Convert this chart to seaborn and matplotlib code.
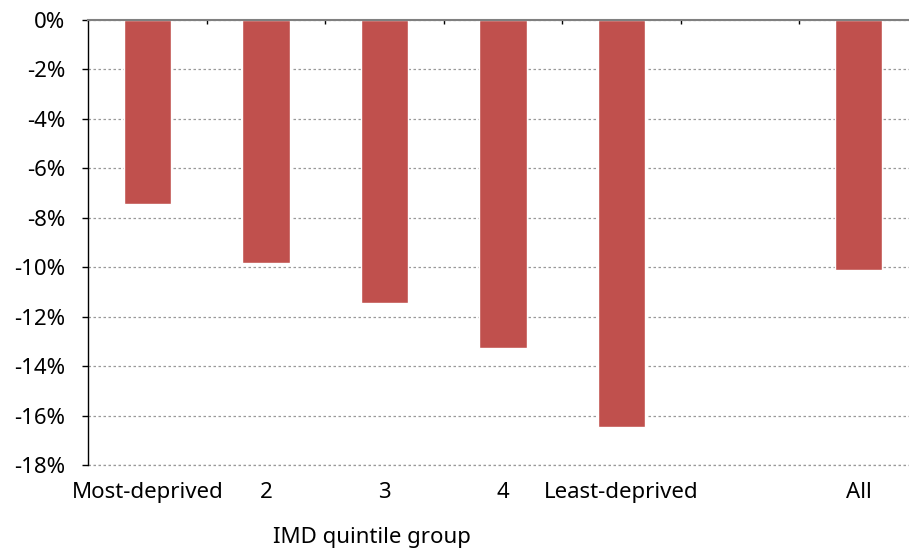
import pandas as pd
import matplotlib
matplotlib.use('Agg')
import matplotlib.pyplot as plt
from matplotlib.ticker import FixedLocator
import seaborn as sns

# Data (percentage change)
groups = ['Most-deprived', '2', '3', '4', 'Least-deprived', 'All']
values = [-7.45, -9.82, -11.45, -13.27, -16.46, -10.12]
# blank slot between the quintiles and the overall bar
order = ['Most-deprived', '2', '3', '4', 'Least-deprived', ' ', 'All']
yticks = list(range(0, -19, -2))

df = pd.DataFrame({'group': groups, 'change': values})

sns.set_theme(style='white')
plt.rcParams['font.family'] = ['Noto Sans', 'DejaVu Sans']

fig = plt.figure(figsize=(9.09, 5.54), dpi=100)
ax = fig.add_axes([88 / 909, 1 - 465 / 554, 830 / 909, 445 / 554])

sns.barplot(data=df, x='group', y='change', order=order, color='#C0504D',
            saturation=1, width=0.4, ax=ax)

ax.set_ylim(-18, 0)
ax.set_xlim(-0.5, 6.5)
ax.set_yticks(yticks)
ax.set_yticklabels([f'{t}%' for t in yticks])
grid_style = dict(linestyle=(0, (2, 2)), color='#999999', linewidth=0.9)
ax.yaxis.grid(True, **grid_style)
ax.axhline(-18, clip_on=False, zorder=0, **grid_style)
ax.set_axisbelow(True)

for s in ['bottom', 'right']:
    ax.spines[s].set_visible(False)
ax.spines['left'].set_color('black')
ax.spines['left'].set_linewidth(1.0)
ax.spines['top'].set_color('#808080')
ax.spines['top'].set_linewidth(1.5)

ax.tick_params(axis='y', left=True, direction='out', length=4.5, width=1,
               color='black', pad=12, labelsize=16, labelcolor='black')
ax.tick_params(axis='x', bottom=False, length=0, pad=12, labelsize=16,
               labelcolor='black')
# small boundary ticks hanging from the zero line
ax.xaxis.set_minor_locator(FixedLocator([i + 0.5 for i in range(6)]))
ax.tick_params(axis='x', which='minor', top=True, bottom=False,
               direction='in', length=3, width=1, color='black')

ax.set_xlabel('')
ax.set_ylabel('')
fig.text(372 / 909, 1 - 537 / 554, 'IMD quintile group', ha='center',
         va='center', fontsize=16, color='black')

fig.savefig('out.png', dpi=100)
